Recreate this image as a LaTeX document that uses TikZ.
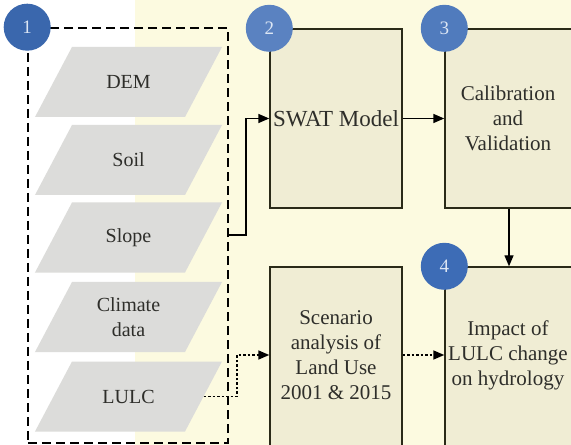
\documentclass[tikz,border=0pt]{standalone}
\usepackage{fontspec}
\setmainfont{Liberation Serif}
\usetikzlibrary{arrows.meta,calc}
\definecolor{cream}{HTML}{FCFAE0}
\definecolor{boxfill}{HTML}{F0EDD4}
\definecolor{layerfill}{HTML}{DCDCDA}
\definecolor{edge}{HTML}{2A2A18}
\definecolor{ink}{HTML}{2E2E2A}
\definecolor{badge}{HTML}{3D6CB6}
\definecolor{badgetext}{HTML}{DCE6F4}
\begin{document}
\begin{tikzpicture}[x=1bp,y=-1bp,
  every node/.style={font=\rmfamily\fontsize{20bp}{25bp}\selectfont, text=ink, inner sep=0pt, align=center},
  boxtext/.style={font=\rmfamily\fontsize{21bp}{25bp}\selectfont},
  dashbox/.style={draw=black, line width=1.6bp, dash pattern=on 9bp off 5bp, minimum width=200bp, minimum height=415bp},
  layer/.style={minimum width=187bp, minimum height=70bp,
    path picture={\fill[layerfill]
      ([xshift=37bp]path picture bounding box.north west) --
      (path picture bounding box.north east) --
      ([xshift=-37bp]path picture bounding box.south east) --
      (path picture bounding box.south west) -- cycle;}},
  stagebox/.style={draw=edge, fill=boxfill, line width=1.4bp},
  badgenode/.style={circle, fill=badge, minimum size=47bp, text=badgetext, font=\rmfamily\fontsize{19bp}{22bp}\selectfont},
  arr/.style={draw=black, line width=1.4bp, -{Triangle[length=11bp,width=9bp]}},
  dotarr/.style={draw=black, line width=1.4bp, dash pattern=on 2.5bp off 2bp, -{Triangle[length=11bp,width=9bp]}}
]
\useasboundingbox (0,0) rectangle (571,445);
\clip (0,0) rectangle (571,445);
\fill[white] (0,0) rectangle (571,445);
\fill[cream] (135,0) rectangle (571,445);

% input group
\node[dashbox] (inputs) at (128,235.5) {};
\node[layer] (dem) at (128.5,82) {DEM};
\node[layer] (soil) at (128.5,160) {Soil};
\node[layer] (slope) at (128.5,237.5) {Slope};
\node[layer] (climate) at (128.5,317) {Climate\\data};
\node[layer] (lulc) at (128.5,396.5) {LULC};

% stage boxes
\node[stagebox, minimum width=132bp, minimum height=179bp] (swat) at (336,118.5) {};
\node[stagebox, minimum width=128bp, minimum height=179bp] (calib) at (509,118.5) {};
\node[stagebox, minimum width=132bp, minimum height=186bp] (scen) at (336,360) {};
\node[stagebox, minimum width=128bp, minimum height=186bp] (impact) at (509,360) {};
\coordinate (row2) at (0,355);
\node[font=\rmfamily\fontsize{23bp}{27bp}\selectfont] (swattext) at (336,118.5) {SWAT Model};
\node[boxtext] (calibtext) at (508,118) {Calibration\\and\\Validation};
\node[boxtext] (scentext) at (336,355) {Scenario\\analysis of\\Land Use\\2001 \& 2015};
\node[boxtext] (impacttext) at (508,355) {Impact of\\LULC change\\on hydrology};

% connectors
\draw[arr] (inputs.east |- 0,235) -- ++(17,0) |- (swat.west);
\draw[arr] (swat.east) -- (calib.west);
\draw[arr] (calib.south) -- (impact.north);
\draw[dotarr] ([xshift=-18.5bp]lulc.east) -- (237,396.5) |- (scen.west |- row2);
\draw[dotarr] (scen.east |- row2) -- (impact.west |- row2);

% badges
\node[badgenode, fill=badge!95!black] (b1) at (inputs.north west) {1};
\node[badgenode, fill=badge!85!white] (b2) at (swat.north west) {2};
\node[badgenode, fill=badge!90!white] (b3) at (calib.north west) {3};
\node[badgenode] (b4) at (impact.north west) {4};
\end{tikzpicture}
\end{document}
